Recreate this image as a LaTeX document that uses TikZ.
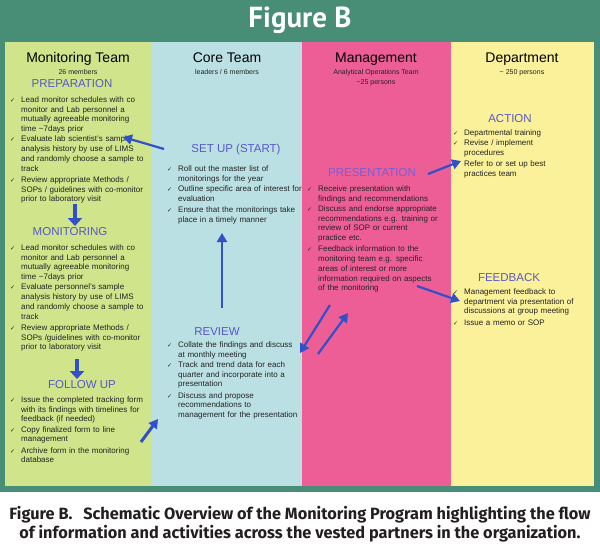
\documentclass[tikz,border=0pt]{standalone}
\usepackage{fontspec}
\setmainfont{Liberation Sans}
\newfontfamily\capfont{PT Sans}
\newfontfamily\notefont{Fira Sans}
\newfontfamily\chkfont{DejaVu Sans}
\usetikzlibrary{arrows.meta,positioning}
\definecolor{cframe}{RGB}{72,142,118}
\definecolor{cmon}{RGB}{207,228,139}
\definecolor{ccore}{RGB}{186,224,228}
\definecolor{cmgmt}{RGB}{238,94,150}
\definecolor{cdept}{RGB}{251,241,154}
\definecolor{cphase}{RGB}{88,88,198}
\definecolor{cpres}{RGB}{122,92,212}
\definecolor{cflow}{RGB}{50,80,200}
\definecolor{cbody}{RGB}{35,35,35}
\definecolor{ccap}{RGB}{35,31,32}
\newcommand{\chk}[1]{\par\lineskip=0pt\vspace{0.6pt}\noindent
  \makebox[11pt][l]{\chkfont\fontsize{6}{6}\selectfont ✓}\parbox[t]{135pt}{\strut#1\strut}}
\tikzset{
  coltitle/.style={anchor=base, font=\fontsize{14}{16}\selectfont, text=black, inner sep=0pt},
  colsub/.style={anchor=base, font=\fontsize{7}{8.5}\selectfont, text=cbody, inner sep=0pt},
  phase/.style={font=\fontsize{11.5}{13}\selectfont, text=cphase, inner sep=0pt},
  itemlist/.style={anchor=north west, inner sep=0pt, text=cbody, font=\fontsize{8}{9.7}\selectfont},
  flow/.style={draw=cflow, line width=2.2pt, -{Triangle[length=9pt,width=10pt]}},
  flowfat/.style={draw=cflow, line width=4.5pt, -{Triangle[length=8pt,width=14pt]}}
}
\begin{document}
\begin{tikzpicture}[x=1pt,y=-1pt]
  \useasboundingbox (0,0) rectangle (600,546);
  \fill[white] (0,0) rectangle (600,546);
  \fill[cframe] (0,0) rectangle (600,492);
  \node[font=\capfont\bfseries\fontsize{29}{32}\selectfont, text=white] (fig) at (300,20) {Figure B};

  \fill[cmon] (5,42) rectangle (152,486);
  \fill[ccore] (152,42) rectangle (302,486);
  \fill[cmgmt] (302,42) rectangle (451,486);
  \fill[cdept] (451,42) rectangle (594,486);

  \node[coltitle] (montitle) at (78,62) {Monitoring Team};
  \node[colsub] (monsub) at (78,74) {26 members};
  \node[coltitle] (coretitle) at (227,62) {Core Team};
  \node[colsub] (coresub) at (227,74) {leaders / 6 members};
  \node[coltitle] (mgmttitle) at (376,62) {Management};
  \node[colsub] (mgmtsub) at (376,74) {Analytical Operations Team};
  \node[colsub] (mgmtsize) at (376,84) {\textasciitilde25 persons};
  \node[coltitle] (depttitle) at (522,62) {Department};
  \node[colsub] (deptsub) at (522,74) {\textasciitilde{} 250 persons};

  \node[phase] (prep) at (72,84) {PREPARATION};
  \node[itemlist, text width=140pt] (prepbody) at (10,92) {%
    \chk{Lead monitor schedules with co\\monitor and Lab personnel a\\mutually agreeable monitoring\\time \textasciitilde7days prior}
    \chk{Evaluate lab scientist's sample\\analysis history by use of LIMS\\and randomly choose a sample to\\track}
    \chk{Review appropriate Methods /\\SOPs / guidelines with co-monitor\\prior to laboratory visit}};
  \node[phase] (monit) at (70,232) {MONITORING};
  \node[itemlist, text width=140pt] (monbody) at (10,240) {%
    \chk{Lead monitor schedules with co\\monitor and Lab personnel a\\mutually agreeable monitoring\\time \textasciitilde7days prior}
    \chk{Evaluate personnel's sample\\analysis history by use of LIMS\\and randomly choose a sample to\\track}
    \chk{Review appropriate Methods /\\SOPs /guidelines with co-monitor\\prior to laboratory visit}};
  \node[phase] (follow) at (82,385) {FOLLOW UP};
  \node[itemlist, text width=140pt] (follbody) at (10,392) {%
    \chk{Issue the completed tracking form\\with its findings with timelines for\\feedback (if needed)}
    \chk{Copy finalized form to line\\management}
    \chk{Archive form in the monitoring\\database}};

  \node[phase] (setup) at (236,150) {SET UP (START)};
  \node[itemlist, text width=133pt] (setupbody) at (167,161) {%
    \chk{Roll out the master list of\\monitorings for the year}
    \chk{Outline specific area of interest for\\evaluation}
    \chk{Ensure that the monitorings take\\place in a timely manner}};
  \node[phase] (review) at (217,332) {REVIEW};
  \node[itemlist, text width=133pt] (reviewbody) at (167,337) {%
    \chk{Collate the findings and discuss\\at monthly meeting}
    \chk{Track and trend data for each\\quarter and incorporate into a\\presentation}
    \chk{Discuss and propose\\recommendations to\\management for the presentation}};

  \node[phase, text=cpres] (pres) at (372,173) {PRESENTATION};
  \node[itemlist, text width=140pt] (presbody) at (307,181) {%
    \chk{Receive presentation with\\findings and recommendations}
    \chk{Discuss and endorse appropriate\\recommendations e.g. training or\\review of SOP or current\\practice etc.}
    \chk{Feedback information to the\\monitoring team e.g. specific\\areas of interest or more\\information required on aspects\\of the monitoring}};

  \node[phase] (action) at (510,119) {ACTION};
  \node[itemlist, text width=135pt] (actionbody) at (453,125) {%
    \chk{Departmental training}
    \chk{Revise / implement\\procedures}
    \chk{Refer to or set up best\\practices team}};
  \node[phase] (feedb) at (509,278) {FEEDBACK};
  \node[itemlist, text width=135pt] (feedbbody) at (453,284) {%
    \chk{Management feedback to\\department via presentation of\\discussions at group meeting}
    \chk{Issue a memo or SOP}};

  \coordinate (setupout) at (164,149);
  \coordinate (prepin) at (123,137);
  \coordinate (prepout) at (75,204);
  \coordinate (monitin) at (75,226);
  \coordinate (monout) at (77,359);
  \coordinate (followin) at (77,379);
  \coordinate (followout) at (141,442);
  \coordinate (reviewin) at (158,419);
  \coordinate (reviewup) at (222,308);
  \coordinate (setupin) at (222,233);
  \coordinate (mgmtdown) at (330,305);
  \coordinate (reviewback) at (300,353);
  \coordinate (reviewfwd) at (318,354);
  \coordinate (mgmtin) at (348,313);
  \coordinate (presout) at (428,174);
  \coordinate (actionin) at (461,161);
  \coordinate (fbout) at (417,286);
  \coordinate (feedbin) at (460,301);

  \draw[flow] (setupout) -- (prepin);
  \draw[flowfat] (prepout) -- (monitin);
  \draw[flowfat] (monout) -- (followin);
  \draw[flow, line width=3pt] (followout) -- (reviewin);
  \draw[flow, line width=2.6pt] (reviewup) -- (setupin);
  \draw[flow] (mgmtdown) -- (reviewback);
  \draw[flow] (reviewfwd) -- (mgmtin);
  \draw[flow] (presout) -- (actionin);
  \draw[flow] (fbout) -- (feedbin);

  \node[font=\notefont\bfseries\fontsize{16.3}{19}\selectfont, text=ccap, align=center] (cap) at (300,524)
    {Figure B.\hspace{7pt} Schematic Overview of the Monitoring Program highlighting the flow\\
     of information and activities across the vested partners in the organization.};
\end{tikzpicture}
\end{document}
